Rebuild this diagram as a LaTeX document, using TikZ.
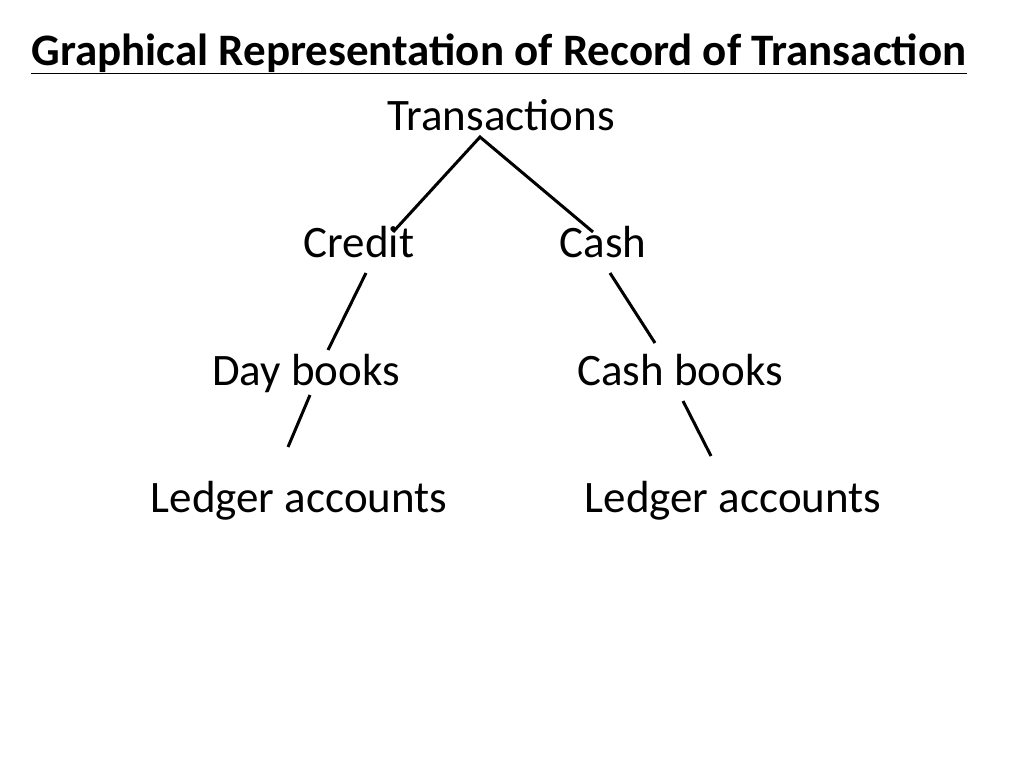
\documentclass[tikz,border=0pt]{standalone}
\usepackage{fontspec}
\setmainfont{Carlito}
\begin{document}
\begin{tikzpicture}[x=1pt,y=-1pt,
  lbl/.style={font=\fontsize{45}{50}\selectfont, inner sep=0pt, anchor=base},
  link/.style={line width=3pt}]
\useasboundingbox (0,0) rectangle (1024,768);
\node[lbl,font=\fontsize{45}{50}\selectfont\bfseries] (title) at (499,65) {\underline{Graphical Representation of Record of Transaction}};
\node[lbl] (tr) at (501,130) {Transactions};
\node[lbl] (cr) at (359,257) {Credit};
\node[lbl] (ca) at (603,257) {Cash};
\node[lbl] (db) at (306,385) {Day books};
\node[lbl] (cb) at (680,385) {Cash books};
\node[lbl] (l1) at (299,512) {Ledger accounts};
\node[lbl] (l2) at (733,512) {Ledger accounts};
\coordinate (t0) at (480,137);
\coordinate (c1) at (393,232);
\coordinate (c2) at (593,232);
\coordinate (d0) at (366,273);
\coordinate (d1) at (328,350);
\coordinate (e0) at (610,273);
\coordinate (e1) at (655,343);
\coordinate (f0) at (310,395);
\coordinate (f1) at (288,447);
\coordinate (g0) at (683,401);
\coordinate (g1) at (711,456);
\draw[link] (c1) -- (t0) -- (c2);
\draw[link] (d0) -- (d1);
\draw[link] (e0) -- (e1);
\draw[link] (f0) -- (f1);
\draw[link] (g0) -- (g1);
\end{tikzpicture}
\end{document}
